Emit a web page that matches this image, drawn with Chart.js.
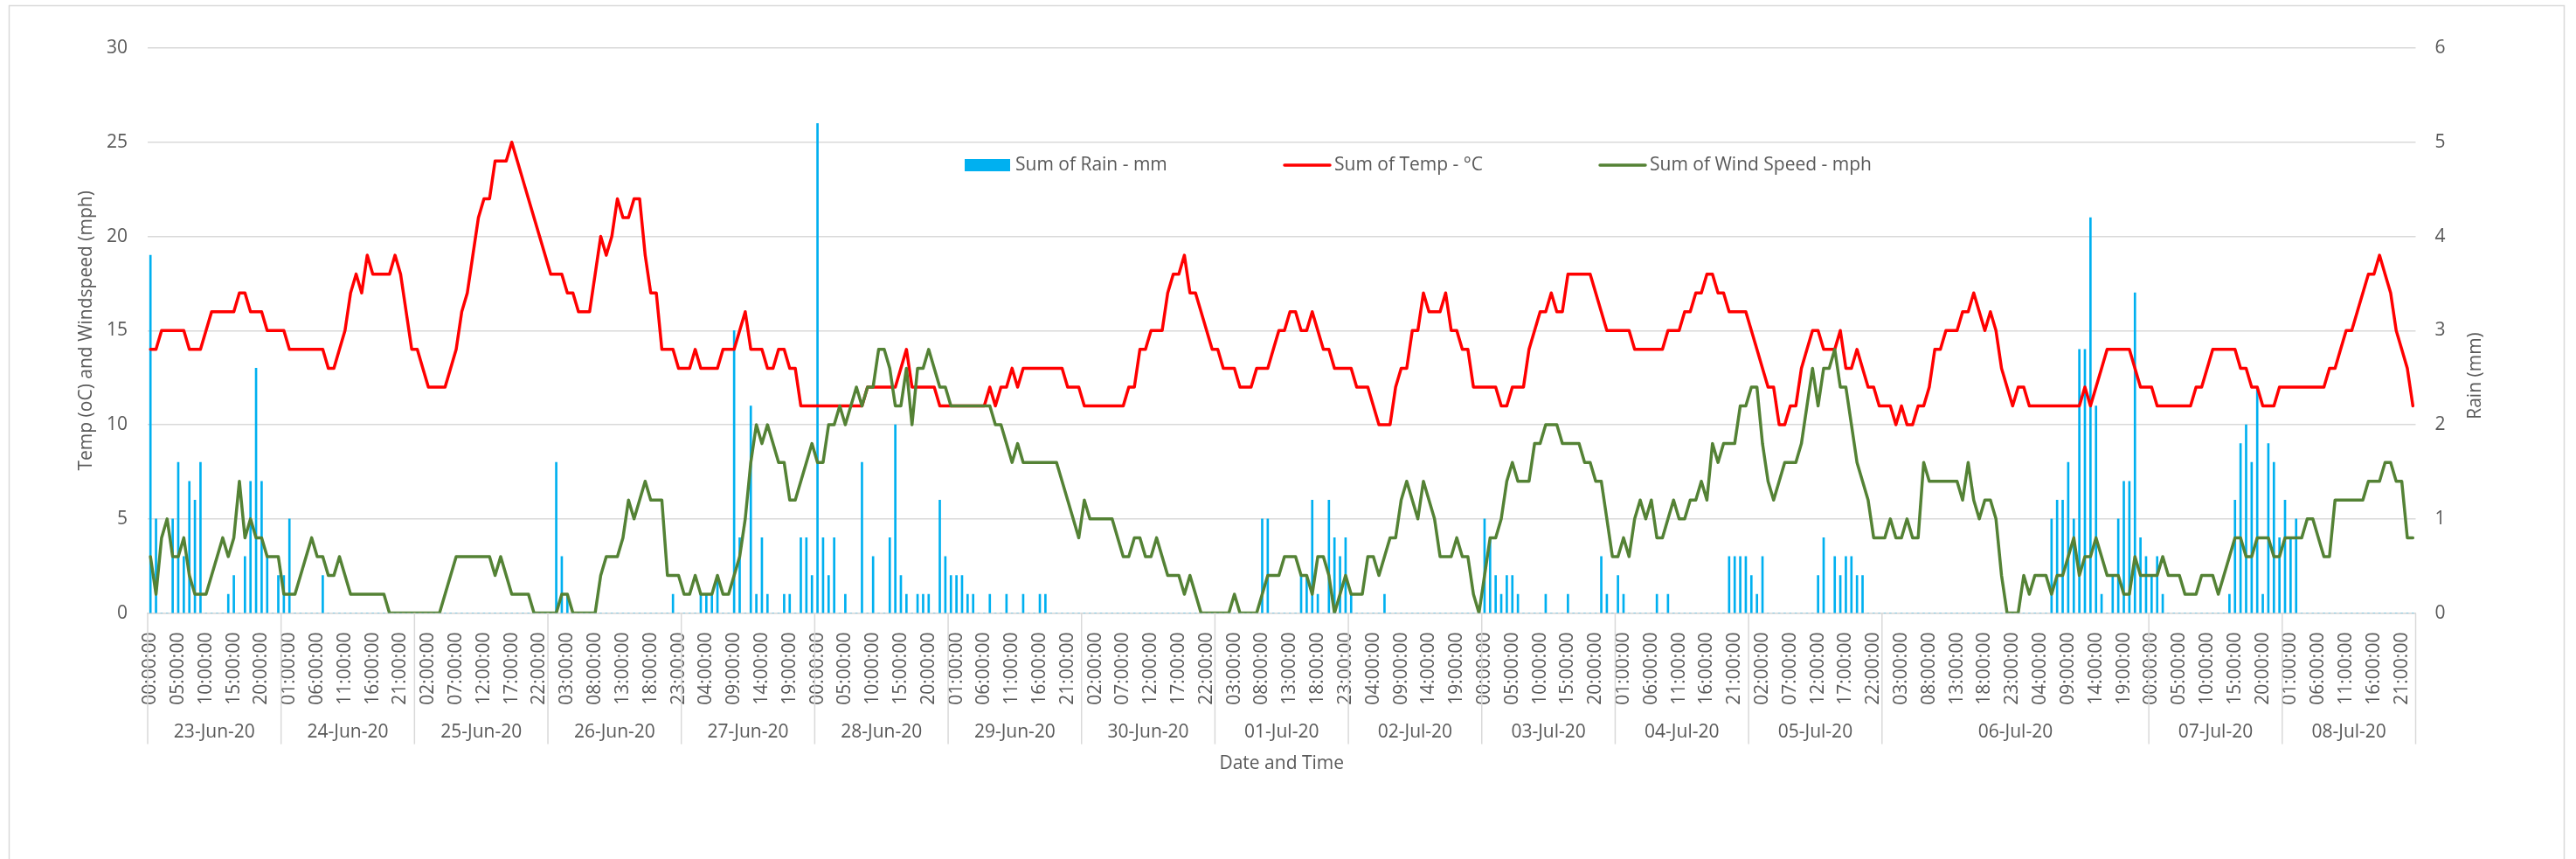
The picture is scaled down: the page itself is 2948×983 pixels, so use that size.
<!DOCTYPE html>
<html>
<head>
<meta charset="utf-8">
<script src="https://cdn.jsdelivr.net/npm/chart.js@4"></script>
<style>
  body { margin: 0; background: #ffffff; }
  canvas { display: block; }
</style>
</head>
<body>
<canvas id="chart" width="2948" height="983"></canvas>
<script>
// Dates on the outer axis level, and how many hourly rows each one has
const days = ['23-Jun-20', '24-Jun-20', '25-Jun-20', '26-Jun-20', '27-Jun-20', '28-Jun-20', '29-Jun-20', '30-Jun-20',
    '01-Jul-20', '02-Jul-20', '03-Jul-20', '04-Jul-20', '05-Jul-20', '06-Jul-20', '07-Jul-20', '08-Jul-20'];
const dayCounts = [24, 24, 24, 24, 24, 24, 24, 24, 24, 24, 24, 24, 24, 48, 24, 24];
const hours = ['00:00:00', '01:00:00', '02:00:00', '03:00:00', '04:00:00', '05:00:00', '06:00:00', '07:00:00',
    '08:00:00', '09:00:00', '10:00:00', '11:00:00', '12:00:00', '13:00:00', '14:00:00', '15:00:00',
    '16:00:00', '17:00:00', '18:00:00', '19:00:00', '20:00:00', '21:00:00', '22:00:00', '23:00:00'];

// Sum of Temp - °C (one row per day)
const temp = [
    14,14,15,15,15,15,15,14,14,14,15,16,16,16,16,16,17,17,16,16,16,15,15,15,
    15,14,14,14,14,14,14,14,13,13,14,15,17,18,17,19,18,18,18,18,19,18,16,14,
    14,13,12,12,12,12,13,14,16,17,19,21,22,22,24,24,24,25,24,23,22,21,20,19,
    18,18,18,17,17,16,16,16,18,20,19,20,22,21,21,22,22,19,17,17,14,14,14,13,
    13,13,14,13,13,13,13,14,14,14,15,16,14,14,14,13,13,14,14,13,13,11,11,11,
    11,11,11,11,11,11,11,11,11,12,12,12,12,12,12,13,14,12,12,12,12,12,11,11,
    11,11,11,11,11,11,11,12,11,12,12,13,12,13,13,13,13,13,13,13,13,12,12,12,
    11,11,11,11,11,11,11,11,12,12,14,14,15,15,15,17,18,18,19,17,17,16,15,14,
    14,13,13,13,12,12,12,13,13,13,14,15,15,16,16,15,15,16,15,14,14,13,13,13,
    13,12,12,12,11,10,10,10,12,13,13,15,15,17,16,16,16,17,15,15,14,14,12,12,
    12,12,12,11,11,12,12,12,14,15,16,16,17,16,16,18,18,18,18,18,17,16,15,15,
    15,15,15,14,14,14,14,14,14,15,15,15,16,16,17,17,18,18,17,17,16,16,16,16,
    15,14,13,12,12,10,10,11,11,13,14,15,15,14,14,14,15,13,13,14,13,12,12,11,
    11,11,10,11,10,10,11,11,12,14,14,15,15,15,16,16,17,16,15,16,15,13,12,11,
    12,12,11,11,11,11,11,11,11,11,11,11,12,11,12,13,14,14,14,14,14,13,12,12,
    12,11,11,11,11,11,11,11,12,12,13,14,14,14,14,14,13,13,12,12,11,11,11,12,
    12,12,12,12,12,12,12,12,13,13,14,15,15,16,17,18,18,19,18,17,15,14,13,11
];

// Sum of Wind Speed - mph
const wind = [
    3,1,4,5,3,3,4,2,1,1,1,2,3,4,3,4,7,4,5,4,4,3,3,3,
    1,1,1,2,3,4,3,3,2,2,3,2,1,1,1,1,1,1,1,0,0,0,0,0,
    0,0,0,0,0,1,2,3,3,3,3,3,3,3,2,3,2,1,1,1,1,0,0,0,
    0,0,1,1,0,0,0,0,0,2,3,3,3,4,6,5,6,7,6,6,6,2,2,2,
    1,1,2,1,1,1,2,1,1,2,3,5,8,10,9,10,9,8,8,6,6,7,8,9,
    8,8,10,10,11,10,11,12,11,12,12,14,14,13,11,11,13,10,13,13,14,13,12,12,
    11,11,11,11,11,11,11,11,10,10,9,8,9,8,8,8,8,8,8,8,7,6,5,4,
    6,5,5,5,5,5,4,3,3,4,4,3,3,4,3,2,2,2,1,2,1,0,0,0,
    0,0,0,1,0,0,0,0,1,2,2,2,3,3,3,2,2,1,3,3,2,0,1,2,
    1,1,1,3,3,2,3,4,4,6,7,6,5,7,6,5,3,3,3,4,3,3,1,0,
    2,4,4,5,7,8,7,7,7,9,9,10,10,10,9,9,9,9,8,8,7,7,5,3,
    3,4,3,5,6,5,6,4,4,5,6,5,5,6,6,7,6,9,8,9,9,9,11,11,
    12,12,9,7,6,7,8,8,8,9,11,13,11,13,13,14,12,12,10,8,7,6,4,4,
    4,5,4,4,5,4,4,8,7,7,7,7,7,7,6,8,6,5,6,6,5,2,0,0,
    0,2,1,2,2,2,1,2,2,3,4,2,3,3,4,3,2,2,2,1,1,3,2,2,
    2,2,3,2,2,2,1,1,1,2,2,2,1,2,3,4,4,3,3,4,4,4,3,3,
    4,4,4,4,5,5,4,3,3,6,6,6,6,6,6,7,7,7,8,8,7,7,4,4
];

// Sum of Rain - mm
const rain = [
    3.8,1.0,0,0,1.0,1.6,0.6,1.4,1.2,1.6,0,0,0,0,0.2,0.4,0,0.6,1.4,2.6,1.4,0.6,0,0.4,
    0.4,1.0,0,0,0,0,0,0.4,0,0,0,0,0,0,0,0,0,0,0,0,0,0,0,0,
    0,0,0,0,0,0,0,0,0,0,0,0,0,0,0,0,0,0,0,0,0,0,0,0,
    0,1.6,0.6,0.2,0,0,0,0,0,0,0,0,0,0,0,0,0,0,0,0,0,0,0.2,0,
    0,0,0,0.2,0.2,0.2,0.4,0,0,3.0,0.8,0,2.2,0.2,0.8,0.2,0,0,0.2,0.2,0,0.8,0.8,0.4,
    5.2,0.8,0.4,0.8,0,0.2,0,0,1.6,0,0.6,0,0,0.8,2.0,0.4,0.2,0,0.2,0.2,0.2,0,1.2,0.6,
    0.4,0.4,0.4,0.2,0.2,0,0,0.2,0,0,0.2,0,0,0.2,0,0,0.2,0.2,0,0,0,0,0,0,
    0,0,0,0,0,0,0,0,0,0,0,0,0,0,0,0,0,0,0,0,0,0,0,0,
    0,0,0,0,0,0,0,0,1.0,1.0,0,0,0,0,0,0.4,0.4,1.2,0.2,0,1.2,0.8,0.6,0.8,
    0.2,0,0,0,0,0,0.2,0,0,0,0,0,0,0,0,0,0,0,0,0,0,0,0,0,
    1.0,0.8,0.4,0.2,0.4,0.4,0.2,0,0,0,0,0.2,0,0,0,0.2,0,0,0,0,0,0.6,0.2,0,
    0.4,0.2,0,0,0,0,0,0.2,0,0.2,0,0,0,0,0,0,0,0,0,0,0.6,0.6,0.6,0.6,
    0.4,0.2,0.6,0,0,0,0,0,0,0,0,0,0.4,0.8,0,0.6,0.4,0.6,0.6,0.4,0.4,0,0,0,
    0,0,0,0,0,0,0,0,0,0,0,0,0,0,0,0,0,0,0,0,0,0,0,0,
    0,0,0,0,0,0,1.0,1.2,1.2,1.6,1.0,2.8,2.8,4.2,2.2,0.2,0,0.4,1.0,1.4,1.4,3.4,0.8,0.6,
    0.4,0.6,0.2,0,0,0,0,0,0,0,0,0,0,0,0.2,1.2,1.8,2.0,1.6,2.4,0.2,1.8,1.6,0.8,
    1.2,0.8,1.0,0,0,0,0,0,0,0,0,0,0,0,0,0,0,0,0,0,0,0,0,0
];

// Build the inner axis labels (hour of each row)
const timeLabels = [];
dayCounts.forEach(count => {
    for (let k = 0; k < count; k++) timeLabels.push(hours[k % 24]);
});

const fontFamily = '"Open Sans", "Noto Sans", sans-serif';
const textColor = '#595959';
const gridColor = '#d9d9d9';

// Draws what Chart.js has no option for: the date level of the axis, titles, legend, frame
const excelDecor = {
    id: 'excelDecor',
    beforeDraw(chart) {
        const ctx = chart.ctx;
        ctx.save();
        ctx.fillStyle = '#ffffff';
        ctx.fillRect(0, 0, chart.width, chart.height);
        ctx.restore();
    },
    afterDraw(chart) {
        const ctx = chart.ctx;
        const x = chart.scales.x;
        const area = chart.chartArea;
        const step = x.getPixelForValue(1) - x.getPixelForValue(0);

        ctx.save();
        ctx.strokeStyle = gridColor;
        ctx.lineWidth = 1.5;
        ctx.fillStyle = textColor;
        ctx.font = '21px ' + fontFamily;
        ctx.textAlign = 'center';
        ctx.textBaseline = 'middle';

        // date groups under the hour labels
        let start = 0;
        days.forEach((day, i) => {
            const left = x.getPixelForValue(start) - step / 2;
            const right = left + dayCounts[i] * step;
            ctx.beginPath();
            ctx.moveTo(left, area.bottom);
            ctx.lineTo(left, area.bottom + 150);
            ctx.stroke();
            if (i === days.length - 1) {
                ctx.beginPath();
                ctx.moveTo(right, area.bottom);
                ctx.lineTo(right, area.bottom + 150);
                ctx.stroke();
            }
            ctx.fillText(day, (left + right) / 2, area.bottom + 136);
            start += dayCounts[i];
        });

        // axis titles
        const midY = (area.top + area.bottom) / 2;
        ctx.fillText('Date and Time', (area.left + area.right) / 2, 874);

        ctx.save();
        ctx.translate(99, midY);
        ctx.rotate(-Math.PI / 2);
        ctx.fillText('Temp (oC) and Windspeed (mph)', 0, 0);
        ctx.restore();

        ctx.save();
        ctx.translate(2833, 430);
        ctx.rotate(-Math.PI / 2);
        ctx.fillText('Rain (mm)', 0, 0);
        ctx.restore();

        // legend
        const ly = 189;
        ctx.textAlign = 'left';
        ctx.fillStyle = '#00b0f0';
        ctx.fillRect(1104, ly - 7, 52, 14);
        ctx.fillStyle = textColor;
        ctx.fillText('Sum of Rain - mm', 1162, ly);

        ctx.lineCap = 'round';
        ctx.lineWidth = 3.5;
        ctx.strokeStyle = '#ff0000';
        ctx.beginPath();
        ctx.moveTo(1470, ly);
        ctx.lineTo(1522, ly);
        ctx.stroke();
        ctx.fillText('Sum of Temp - °C', 1527, ly);

        ctx.strokeStyle = '#548235';
        ctx.beginPath();
        ctx.moveTo(1831, ly);
        ctx.lineTo(1883, ly);
        ctx.stroke();
        ctx.fillText('Sum of Wind Speed - mph', 1888, ly);

        // outer frame
        ctx.lineWidth = 1.5;
        ctx.strokeStyle = gridColor;
        ctx.strokeRect(10.5, 6.5, 2924, 990);
        ctx.restore();
    }
};

const ctx = document.getElementById('chart').getContext('2d');
new Chart(ctx, {
    type: 'bar',
    data: {
        labels: timeLabels,
        datasets: [
            {
                type: 'line',
                label: 'Sum of Wind Speed - mph',
                data: wind,
                yAxisID: 'y',
                borderColor: '#548235',
                borderWidth: 3.5,
                borderJoinStyle: 'round',
                borderCapStyle: 'round',
                pointRadius: 0,
                tension: 0,
                order: 0,
            },
            {
                type: 'line',
                label: 'Sum of Temp - °C',
                data: temp,
                yAxisID: 'y',
                borderColor: '#ff0000',
                borderWidth: 3.5,
                borderJoinStyle: 'round',
                borderCapStyle: 'round',
                pointRadius: 0,
                tension: 0,
                order: 1,
            },
            {
                type: 'bar',
                label: 'Sum of Rain - mm',
                data: rain,
                yAxisID: 'y2',
                backgroundColor: '#00b0f0',
                barThickness: 2,
                order: 2,
            }
        ]
    },
    options: {
        responsive: false,
        animation: false,
        devicePixelRatio: 1,
        layout: { padding: { top: 55, left: 0, right: 0, bottom: 0 } },
        plugins: {
            legend: { display: false },
            tooltip: { enabled: false },
        },
        scales: {
            x: {
                grid: { display: false },
                border: { display: true, color: gridColor, width: 1.5 },
                ticks: {
                    autoSkip: false,
                    minRotation: 90,
                    maxRotation: 90,
                    padding: 14,
                    color: textColor,
                    font: { family: fontFamily, size: 21 },
                    callback: (value, index) => index % 5 === 0 ? timeLabels[index] : '',
                },
                afterFit: (scale) => { scale.height = 983 - 701.6; },
            },
            y: {
                position: 'left',
                min: 0,
                max: 30,
                ticks: {
                    stepSize: 5,
                    padding: 23,
                    color: textColor,
                    font: { family: fontFamily, size: 21 },
                },
                grid: { color: gridColor, lineWidth: 1.5, drawTicks: false },
                border: { display: false },
                afterFit: (scale) => { scale.width = 169; },
            },
            y2: {
                position: 'right',
                min: 0,
                max: 6,
                ticks: {
                    stepSize: 1,
                    padding: 22,
                    color: textColor,
                    font: { family: fontFamily, size: 21 },
                },
                grid: { display: false, drawTicks: false },
                border: { display: false },
                afterFit: (scale) => { scale.width = 2948 - 2764.5; },
            }
        }
    },
    plugins: [excelDecor]
});
</script>
</body>
</html>
